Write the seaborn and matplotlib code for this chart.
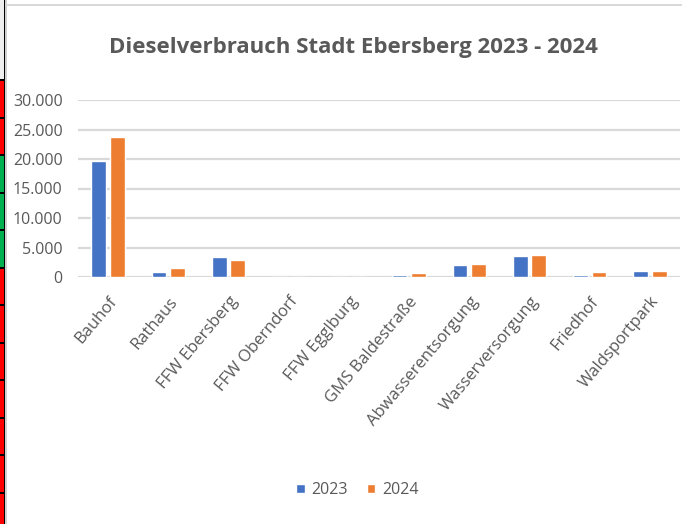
import matplotlib
matplotlib.use("Agg")
import matplotlib.pyplot as plt
from matplotlib.patches import Rectangle
from matplotlib.ticker import FuncFormatter
import pandas as pd
import seaborn as sns

# data
standorte = ["Bauhof", "Rathaus", "FFW Ebersberg", "FFW Oberndorf", "FFW Egglburg",
             "GMS Baldestraße", "Abwasserentsorgung", "Wasserversorgung", "Friedhof",
             "Waldsportpark"]
verbrauch_2023 = [19600, 900, 3450, 0, 0, 350, 2050, 3500, 350, 1000]
verbrauch_2024 = [23700, 1600, 2850, 0, 0, 650, 2250, 3750, 800, 1000]
jahre = ["2023", "2024"]

df = pd.DataFrame({
    "Standort": standorte * 2,
    "Jahr": [jahre[0]] * len(standorte) + [jahre[1]] * len(standorte),
    "Liter": verbrauch_2023 + verbrauch_2024,
})

sns.set_theme(style="white")
plt.rcParams["font.family"] = ["Open Sans", "DejaVu Sans"]
grau = "#595959"

fig = plt.figure(figsize=(6.84, 5.24), dpi=100)
ax = fig.add_axes([78 / 684, 1 - 277 / 524, 602 / 684, 177 / 524])

sns.barplot(data=df, x="Standort", y="Liter", hue="Jahr",
            palette=["#4472C4", "#ED7D31"], saturation=1, width=0.62, gap=0.2,
            ax=ax, zorder=3)

ax.set_ylim(0, 30000)
ax.set_xlim(-0.5, len(standorte) - 0.5)
ax.set_yticks(range(0, 30001, 5000))
ax.yaxis.set_major_formatter(FuncFormatter(lambda v, p: f"{int(v):,}".replace(",", ".")))
ax.grid(axis="y", color="#D9D9D9", linewidth=1.6, zorder=0)
ax.set_axisbelow(True)
for s in ax.spines.values():
    s.set_visible(False)
ax.set_xlabel("")
ax.set_ylabel("")
ax.tick_params(axis="y", length=0, pad=11, labelsize=11.5, labelcolor=grau)
ax.tick_params(axis="x", length=0, pad=12, labelsize=12, labelcolor=grau)
for lbl in ax.get_xticklabels():
    lbl.set_rotation(50)
    lbl.set_ha("right")
    lbl.set_va("top")
    lbl.set_rotation_mode("anchor")

fig.text(353 / 684, 1 - 47 / 524, "Dieselverbrauch Stadt Ebersberg 2023 - 2024",
         ha="center", va="center", fontsize=16, fontweight="bold", color=grau)

ax.legend(loc="center", bbox_to_anchor=(357 / 684, 1 - 490 / 524),
          bbox_transform=fig.transFigure, ncol=2, frameon=False,
          handlelength=0.55, handleheight=0.55, handletextpad=0.4,
          columnspacing=1.2, fontsize=11.5, labelcolor=grau)

# spreadsheet edge visible in the screenshot
fig.patches.append(Rectangle((0, 1 - 80 / 524), 4.5 / 684, 80 / 524, transform=fig.transFigure,
                             facecolor="#EEEEEE", edgecolor="none"))
zellen = ["red", "red", "#00B050", "#00B050", "#00B050", "red", "red",
          "red", "red", "red", "red", "red"]
for i, c in enumerate(zellen):
    y0 = 80 + i * 37.5
    fig.patches.append(Rectangle((0, 1 - (y0 + 37.5) / 524), 4.5 / 684, 37.5 / 524,
                                 transform=fig.transFigure, facecolor=c, edgecolor="none"))
    fig.patches.append(Rectangle((0, 1 - (y0 + 1) / 524), 4.5 / 684, 2 / 524,
                                 transform=fig.transFigure, facecolor="black", edgecolor="none"))
fig.patches.append(Rectangle((4 / 684, 0), 1.3 / 684, 1, transform=fig.transFigure,
                             facecolor="black", edgecolor="none"))
fig.patches.append(Rectangle((5.3 / 684, 0), 1.5 / 684, 1, transform=fig.transFigure,
                             facecolor="#D0D0D0", edgecolor="none"))
fig.patches.append(Rectangle((6 / 684, 1 - 6 / 524), 676 / 684, 2 / 524,
                             transform=fig.transFigure, facecolor="#D9D9D9", edgecolor="none"))

fig.savefig("out.png", dpi=100)
